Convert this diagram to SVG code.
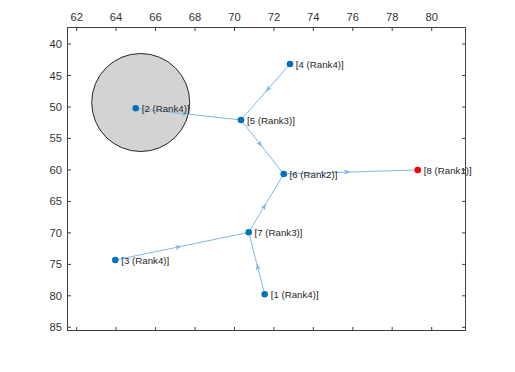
<svg xmlns="http://www.w3.org/2000/svg" width="515" height="372" viewBox="0 0 515 372">
<style>
.ax{fill:none;stroke:#404040;stroke-width:1}
.tk{stroke:#404040;stroke-width:1}
.tl{font-family:"Liberation Sans",Arial,sans-serif;font-size:11.2px;fill:#333333}
.nl{font-family:"Liberation Sans",Arial,sans-serif;font-size:9.7px;fill:#262626}
.e{fill:none;stroke:#80B9DF;stroke-width:1;marker-mid:url(#arr)}
.n{fill:#0072BD}
.r{fill:#FF0000}
</style>
<defs>
<marker id="arr" viewBox="-8 -4 10 8" markerWidth="10" markerHeight="8" refX="0" refY="0" orient="auto" markerUnits="userSpaceOnUse">
<path d="M0,0 L-7,-2.6 L-5,0 L-7,2.6 Z" fill="#80B9DF"/>
</marker>
</defs>
<rect width="515" height="372" fill="#ffffff"/>
<g id="axes">
<rect class="ax" x="67.5" y="27.5" width="398" height="303"/>
<g class="tk">
<path d="M76.7,27.5v3.5M116.1,27.5v3.5M155.6,27.5v3.5M195,27.5v3.5M234.5,27.5v3.5M273.9,27.5v3.5M313.3,27.5v3.5M352.8,27.5v3.5M392.2,27.5v3.5M431.7,27.5v3.5"/>
<path d="M76.7,330.5v-3.5M116.1,330.5v-3.5M155.6,330.5v-3.5M195,330.5v-3.5M234.5,330.5v-3.5M273.9,330.5v-3.5M313.3,330.5v-3.5M352.8,330.5v-3.5M392.2,330.5v-3.5M431.7,330.5v-3.5"/>
<path d="M67.5,44h3.5M67.5,75.5h3.5M67.5,107h3.5M67.5,138.4h3.5M67.5,169.9h3.5M67.5,201.4h3.5M67.5,232.9h3.5M67.5,264.4h3.5M67.5,295.8h3.5M67.5,327.3h3.5"/>
<path d="M465.5,44h-3.5M465.5,75.5h-3.5M465.5,107h-3.5M465.5,138.4h-3.5M465.5,169.9h-3.5M465.5,201.4h-3.5M465.5,232.9h-3.5M465.5,264.4h-3.5M465.5,295.8h-3.5M465.5,327.3h-3.5"/>
</g>
<g class="tl" text-anchor="middle">
<text x="76.7" y="20.5">62</text>
<text x="116.1" y="20.5">64</text>
<text x="155.6" y="20.5">66</text>
<text x="195" y="20.5">68</text>
<text x="234.5" y="20.5">70</text>
<text x="273.9" y="20.5">72</text>
<text x="313.3" y="20.5">74</text>
<text x="352.8" y="20.5">76</text>
<text x="392.2" y="20.5">78</text>
<text x="431.7" y="20.5">80</text>
</g>
<g class="tl" text-anchor="end">
<text x="62" y="48">40</text>
<text x="62" y="79.5">45</text>
<text x="62" y="111">50</text>
<text x="62" y="142.4">55</text>
<text x="62" y="173.9">60</text>
<text x="62" y="205.4">65</text>
<text x="62" y="236.9">70</text>
<text x="62" y="268.4">75</text>
<text x="62" y="299.8">80</text>
<text x="62" y="331.3">85</text>
</g>
</g>
<circle id="circle" cx="140.7" cy="102.5" r="49" fill="#D3D3D3" stroke="#262626" stroke-width="1"/>
<g id="edges">
<path class="e" d="M135.7,108.3 L188.4,114.2 L241,120"/>
<path class="e" d="M290,64 L265.5,92 L241,120"/>
<path class="e" d="M241,120 L262.4,147 L283.7,174"/>
<path class="e" d="M283.7,174 L350.7,172 L417.7,170"/>
<path class="e" d="M248.7,232.3 L266.2,203.2 L283.7,174"/>
<path class="e" d="M115.3,260 L182,246.2 L248.7,232.3"/>
<path class="e" d="M264.7,294.3 L256.7,263.3 L248.7,232.3"/>
</g>
<g id="n1"><circle class="n" cx="264.7" cy="294.3" r="3.3"/><text class="nl" x="270.7" y="297.8">[1 (Rank4)]</text></g>
<g id="n2"><circle class="n" cx="135.7" cy="108.3" r="3.3"/><text class="nl" x="141.7" y="111.8">[2 (Rank4)]</text></g>
<g id="n3"><circle class="n" cx="115.3" cy="260" r="3.3"/><text class="nl" x="121.3" y="263.5">[3 (Rank4)]</text></g>
<g id="n4"><circle class="n" cx="290" cy="64" r="3.3"/><text class="nl" x="295.8" y="67.5">[4 (Rank4)]</text></g>
<g id="n5"><circle class="n" cx="241" cy="120" r="3.3"/><text class="nl" x="247" y="123.5">[5 (Rank3)]</text></g>
<g id="n6"><circle class="n" cx="283.7" cy="174" r="3.3"/><text class="nl" x="289.5" y="177.5">[6 (Rank2)]</text></g>
<g id="n7"><circle class="n" cx="248.7" cy="232.3" r="3.3"/><text class="nl" x="254.6" y="235.8">[7 (Rank3)]</text></g>
<g id="n8"><circle class="r" cx="417.7" cy="170" r="3.3"/><text class="nl" x="423.8" y="173.5">[8 (Rank1)]</text></g>
</svg>
